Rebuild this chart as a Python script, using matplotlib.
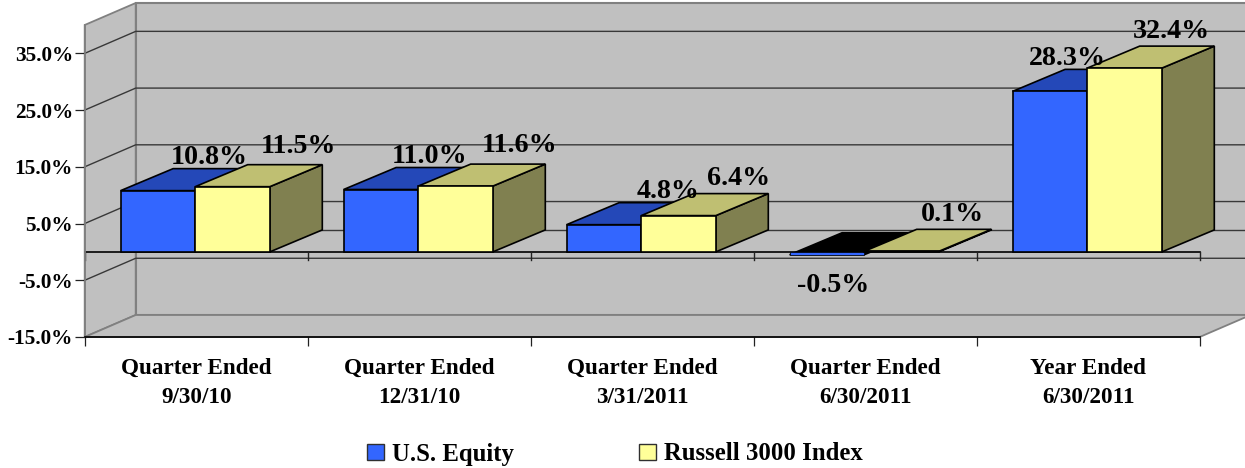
import matplotlib
matplotlib.use("Agg")
import matplotlib.pyplot as plt
from matplotlib.patches import Polygon, Patch

plt.rcParams['font.family'] = ['Liberation Serif', 'DejaVu Serif']
plt.rcParams['font.weight'] = 'bold'

categories = ["Quarter Ended\n9/30/10", "Quarter Ended\n12/31/10", "Quarter Ended\n3/31/2011",
              "Quarter Ended\n6/30/2011", "Year Ended\n6/30/2011"]
us_equity = [10.8, 11.0, 4.8, -0.5, 28.3]
russell_3000 = [11.5, 11.6, 6.4, 0.1, 32.4]
value_ticks = [-15, -5, 5, 15, 25, 35]
series_names = ["U.S. Equity", "Russell 3000 Index"]

# label nudges in pixels, (dx, dy up), from each bar's front-top centre
offsets_us = [(51.5, 33), (49, 33), (64, 33), (6.5, -30.5), (17, 33)]
offsets_ru = [(65.5, 40), (64, 41), (60, 37), (51, 37), (46.5, 36.5)]

W, H = 1245, 468
LEFT, RIGHT, BOTTOM, TOP = 84.7, 1199.7, 337.0, 25.0
YMIN, YMAX = -15, 40
fig = plt.figure(figsize=(W / 100, H / 100), dpi=100, facecolor='white')
ax = fig.add_axes([LEFT / W, 1 - BOTTOM / H, (RIGHT - LEFT) / W, (BOTTOM - TOP) / H])
ax.set_xlim(0, len(categories))
ax.set_ylim(YMIN, YMAX)
ax.patch.set_alpha(0)

PX_X = (RIGHT - LEFT) / len(categories)
PX_Y = (BOTTOM - TOP) / (YMAX - YMIN)
DX = 51 / PX_X     # wall depth offset, category units
BDX = 52.5 / PX_X  # bar depth offset, category units
DY = 22 / PX_Y     # depth offset, value units
BAR_W = 74.6 / PX_X
SHIFT = -1.0 / PX_X
n = len(categories)

WALL, EDGE, GRID = '#C0C0C0', '#808080', '#383838'


def poly(pts, fc, ec, lw=1.0, z=1):
    ax.add_patch(Polygon(pts, closed=True, facecolor=fc, edgecolor=ec, linewidth=lw,
                         clip_on=False, zorder=z, joinstyle='miter'))


# walls and floor
poly([(DX, YMIN + DY), (n + DX, YMIN + DY), (n + DX, YMAX + DY), (DX, YMAX + DY)], WALL, EDGE, 1.5)
poly([(0, YMIN), (DX, YMIN + DY), (DX, YMAX + DY), (0, YMAX)], WALL, EDGE, 1.3)
poly([(0, YMIN), (n, YMIN), (n + DX, YMIN + DY), (DX, YMIN + DY)], WALL, EDGE, 1.3)

# grid lines: side wall and back wall
for v in value_ticks[1:]:
    ax.plot([0, DX, n + DX], [v, v + DY, v + DY], color=GRID, lw=1.0, zorder=2, clip_on=False)
ax.plot([DX, n + DX], [DY, DY], color=GRID, lw=1.0, zorder=2, clip_on=False)

# zero axis with its ticks
ax.plot([0, n], [0, 0], color='black', lw=1.2, zorder=3, clip_on=False)
for i in range(n + 1):
    ax.plot([i, i], [0, -8.5 / PX_Y], color='#222222', lw=1.0, zorder=3, clip_on=False)

BLUE, BLUE_TOP = '#3366FF', '#2448B8'
YEL, YEL_TOP, YEL_SIDE = '#FFFF99', '#BFBF72', '#808050'


def bar3d(x0, v, front, top, side, z, neg_top='black'):
    x1 = x0 + BAR_W
    if v >= 0:
        poly([(x1, 0), (x1 + BDX, DY), (x1 + BDX, v + DY), (x1, v)], side, 'black', 1.2, z)
        poly([(x0, v), (x1, v), (x1 + BDX, v + DY), (x0 + BDX, v + DY)], top, 'black', 1.2, z)
        lw = 1.2
    else:
        poly([(x0, v), (x1, v), (x1 + BDX, v + DY), (x0 + BDX, v + DY)], neg_top, 'black', 1.2, z)
        lw = 0.5
    ax.bar(x0, v, width=BAR_W, align='edge', color=front, edgecolor='black', linewidth=lw, zorder=z + 0.5)


for i in range(n):
    c = i + 0.5 + SHIFT
    bar3d(c - BAR_W, us_equity[i], BLUE, BLUE_TOP, BLUE_TOP, 4 + i)
    bar3d(c, russell_3000[i], YEL, YEL_TOP, YEL_SIDE, 4.7 + i)

LABEL_KW = dict(textcoords='offset pixels', ha='center', va='center', fontsize=20.2,
                fontweight='bold', color='black', zorder=20, annotation_clip=False)
for i in range(n):
    c = i + 0.5 + SHIFT
    ax.annotate(f"{us_equity[i]:.1f}%", (c - BAR_W / 2, us_equity[i]), xytext=offsets_us[i], **LABEL_KW)
    ax.annotate(f"{russell_3000[i]:.1f}%", (c + BAR_W / 2, russell_3000[i]), xytext=offsets_ru[i], **LABEL_KW)

# axes furniture
for s in ('top', 'right'):
    ax.spines[s].set_visible(False)
ax.spines['left'].set_color(EDGE)
ax.spines['left'].set_linewidth(1.3)
ax.spines['left'].set_zorder(3)
ax.spines['bottom'].set_color('black')
ax.spines['bottom'].set_linewidth(1.2)
ax.spines['bottom'].set_zorder(3)

ax.set_yticks(value_ticks)
ax.set_yticklabels([f"{v:.1f}%" for v in value_ticks], fontsize=15.3, fontweight='bold',
                    verticalalignment='center_baseline')
ax.tick_params(axis='y', length=7.2, width=0.9, color='#222222', pad=1.2)
ax.set_xticks(range(n + 1))
ax.set_xticklabels([''] * (n + 1))
ax.tick_params(axis='x', which='major', length=6.5, width=0.9, color='#222222')
ax.set_xticks([i + 0.5 for i in range(n)], minor=True)
ax.set_xticklabels(categories, minor=True, fontsize=16.7, fontweight='bold', linespacing=1.5)
ax.tick_params(axis='x', which='minor', length=0, pad=15)

handles = [Patch(facecolor=BLUE, edgecolor='#303030', linewidth=1.0),
           Patch(facecolor=YEL, edgecolor='#303030', linewidth=1.0)]
fig.legend(handles, series_names, ncol=2, frameon=False, loc='center',
           bbox_to_anchor=(615 / W, 1 - 454 / H), fontsize=17.8,
           handlelength=0.69, handleheight=0.65, handletextpad=0.32, columnspacing=5.05,
           borderpad=0, borderaxespad=0)

fig.savefig('out.png', dpi=100, facecolor='white')
